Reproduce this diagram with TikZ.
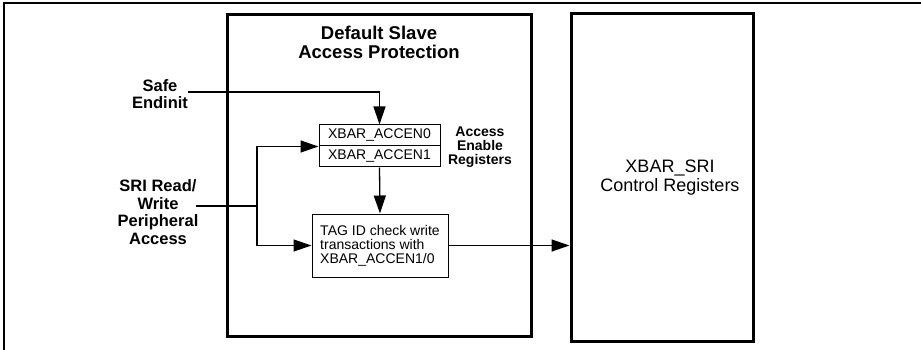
\documentclass[tikz,border=0pt]{standalone}
\usepackage{fontspec}
\setmainfont{Liberation Sans}
\usetikzlibrary{arrows.meta}
\begin{document}
\begin{tikzpicture}[x=1pt,y=-1pt,
  lbl/.style={font=\fontsize{16.5}{17.5}\selectfont\bfseries, align=center, inner sep=0pt},
  smalllbl/.style={font=\fontsize{14}{14}\selectfont\bfseries, align=center, inner sep=0pt},
  bigbox/.style={draw, line width=3pt, inner sep=0pt},
  reg/.style={draw, line width=1pt, font=\fontsize{14}{14}\selectfont, inner sep=0pt, minimum width=121pt, minimum height=21pt},
  conn/.style={line width=1.3pt},
  arr/.style={conn, -{Triangle[length=18pt,width=12pt]}}]
\useasboundingbox (0,0) rectangle (921,350);
\draw[line width=1.2pt] (4,350) -- (4,3) -- (921,3);

\node[bigbox, minimum width=304pt, minimum height=321pt] (dsap) at (379,175.5) {};
\node[bigbox, minimum width=182pt, minimum height=327pt] (xbar) at (662,177.5) {};
\node[font=\fontsize{18}{19}\selectfont, align=center, inner sep=0pt] (xbartxt) at (670,178) {XBAR\_SRI\\Control Registers};

\node[lbl, font=\fontsize{18.5}{19}\selectfont\bfseries] (title) at (379,42.5) {Default Slave\\Access Protection};
\node[lbl] (safe) at (160,94) {Safe\\Endinit};
\node[lbl] (sri) at (158,212) {SRI Read/\\Write\\Peripheral\\Access};
\node[smalllbl] (areg) at (480,147) {Access\\Enable\\Registers};

\node[reg] (acc0) at (379.5,135.5) {XBAR\_ACCEN0};
\node[reg] (acc1) at (379.5,156.5) {XBAR\_ACCEN1};
\node[draw, line width=1pt, font=\fontsize{14}{14}\selectfont, align=left, inner sep=0pt,
      minimum width=136pt, minimum height=63pt] (tag) at (380,245.5)
      {TAG ID check write\\transactions with\\XBAR\_ACCEN1/0};

\coordinate (safeout) at (188,92);
\coordinate (sriout) at (196,206);
\coordinate (j) at (257,206);

\draw[arr] (safeout) -| (acc0.north);
\draw[conn] (sriout) -- (j);
\draw[arr] (j) |- (acc0.south west);
\draw[arr] (j) |- (tag.west);
\draw[arr] (acc1.south) -- (tag.north);
\draw[arr] (tag.east) -- (tag.east -| xbar.west);
\end{tikzpicture}
\end{document}
